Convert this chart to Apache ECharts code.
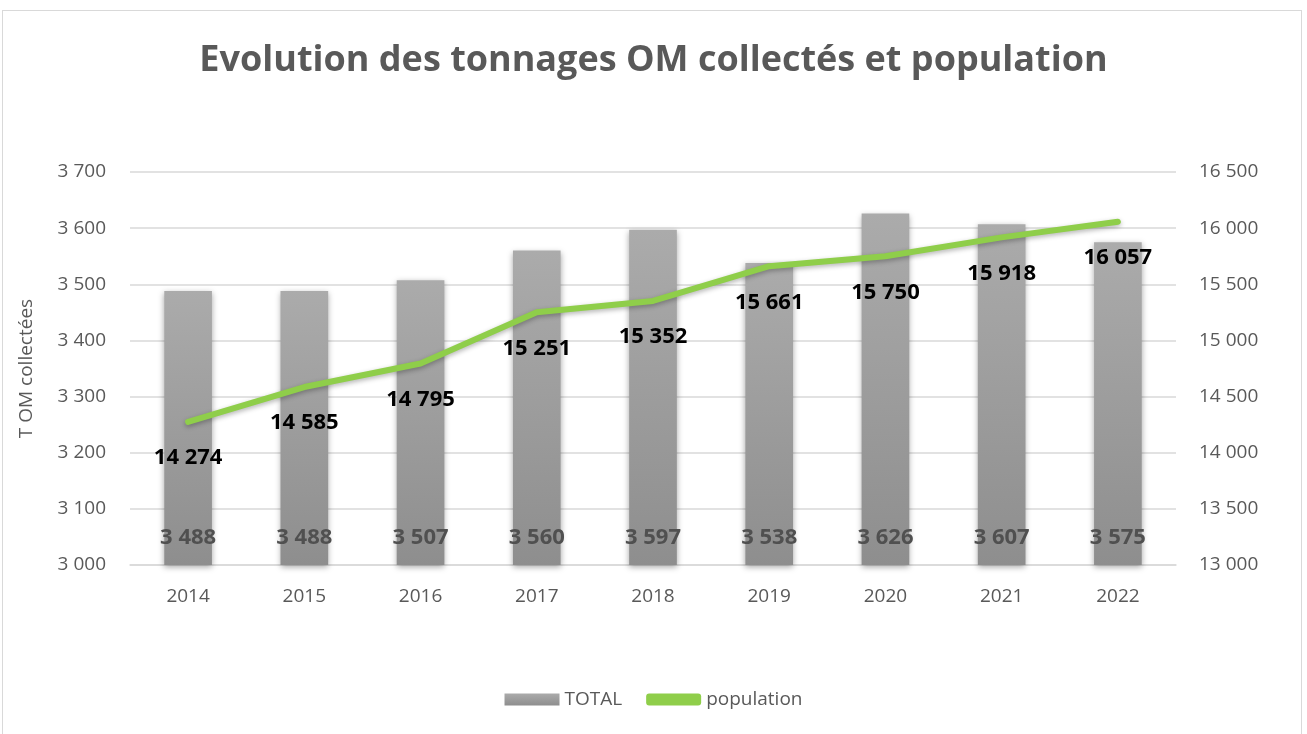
<!DOCTYPE html>
<html lang="fr">
<head>
    <meta charset="UTF-8">
    <title>Evolution des tonnages OM collectés et population</title>
    <script src="https://cdn.jsdelivr.net/npm/echarts@6/dist/echarts.min.js"></script>
    <style>
        html, body { margin: 0; padding: 0; background: #fff; }
        #frame {
            position: absolute;
            left: 2px; top: 10px;
            width: 1300px; height: 740px;
            border: 1px solid #d9d9d9;
            box-sizing: border-box;
        }
        #chart { position: absolute; left: 0; top: 0; width: 1307px; height: 734px; }
    </style>
</head>
<body>
<div id="frame"></div>
<div id="chart"></div>
<script>
    const years = ['2014', '2015', '2016', '2017', '2018', '2019', '2020', '2021', '2022'];
    const total = [3488, 3488, 3507, 3560, 3597, 3538, 3626, 3607, 3575];
    const population = [14274, 14585, 14795, 15251, 15352, 15661, 15750, 15918, 16057];

    const fmt = v => String(v).replace(/\B(?=(\d{3})+(?!\d))/g, ' ');
    const font = 'Open Sans, sans-serif';

    const chart = echarts.init(document.getElementById('chart'));
    chart.setOption({
        animation: false,
        title: {
            text: 'Evolution des tonnages OM collectés et population',
            left: 'center',
            top: 38,
            textStyle: { color: '#595959', fontSize: 36, fontWeight: 'bold', fontFamily: font }
        },
        legend: {
            bottom: 20,
            left: 'center',
            itemGap: 24,
            itemWidth: 55,
            itemHeight: 12,
            textStyle: { color: '#595959', fontSize: 19, fontFamily: font },
            data: [
                { name: 'TOTAL', icon: 'rect' },
                { name: 'population', icon: 'roundRect' }
            ]
        },
        grid: { left: 130, right: 131, top: 172, bottom: 169 },
        xAxis: {
            type: 'category',
            data: years,
            axisTick: { show: false },
            axisLine: { lineStyle: { color: '#d9d9d9', width: 1.5 } },
            axisLabel: { color: '#595959', fontSize: 19, margin: 22, fontFamily: font }
        },
        yAxis: [
            {
                type: 'value',
                min: 3000, max: 3700, interval: 100,
                name: 'T OM collectées',
                nameLocation: 'middle',
                nameGap: 94,
                nameRotate: 90,
                nameTextStyle: { color: '#595959', fontSize: 19, fontFamily: font },
                axisLabel: { color: '#595959', fontSize: 19, margin: 24, formatter: fmt, fontFamily: font },
                splitLine: { lineStyle: { color: '#d9d9d9', width: 1.5 } }
            },
            {
                type: 'value',
                min: 13000, max: 16500, interval: 500,
                axisLabel: { color: '#595959', fontSize: 19, margin: 23, formatter: fmt, fontFamily: font },
                splitLine: { show: false }
            }
        ],
        series: [
            {
                name: 'TOTAL',
                type: 'bar',
                data: total,
                barWidth: '41%',
                itemStyle: {
                    color: new echarts.graphic.LinearGradient(0, 0, 0, 1, [
                        { offset: 0, color: '#ababab' },
                        { offset: 1, color: '#8e8e8e' }
                    ]),
                    shadowColor: 'rgba(0,0,0,0.35)',
                    shadowBlur: 6,
                    shadowOffsetY: 2
                },
                label: {
                    show: true,
                    position: 'insideBottom',
                    distance: 16,
                    color: '#505050',
                    fontSize: 22,
                    fontWeight: 'bold',
                    fontFamily: font,
                    formatter: p => fmt(p.value)
                }
            },
            {
                name: 'population',
                type: 'line',
                yAxisIndex: 1,
                data: population,
                symbol: 'circle',
                symbolSize: 0.1,
                lineStyle: {
                    color: '#8fce4a', width: 6, cap: 'round',
                    shadowColor: 'rgba(0,0,0,0.3)', shadowBlur: 5, shadowOffsetY: 2
                },
                itemStyle: { color: '#8fce4a' },
                label: {
                    show: true,
                    position: 'bottom',
                    distance: 25,
                    color: '#000',
                    fontSize: 22,
                    fontWeight: 'bold',
                    fontFamily: font,
                    formatter: p => fmt(p.value)
                },
                z: 5
            }
        ]
    });
    window.addEventListener('resize', chart.resize);
</script>
</body>
</html>
